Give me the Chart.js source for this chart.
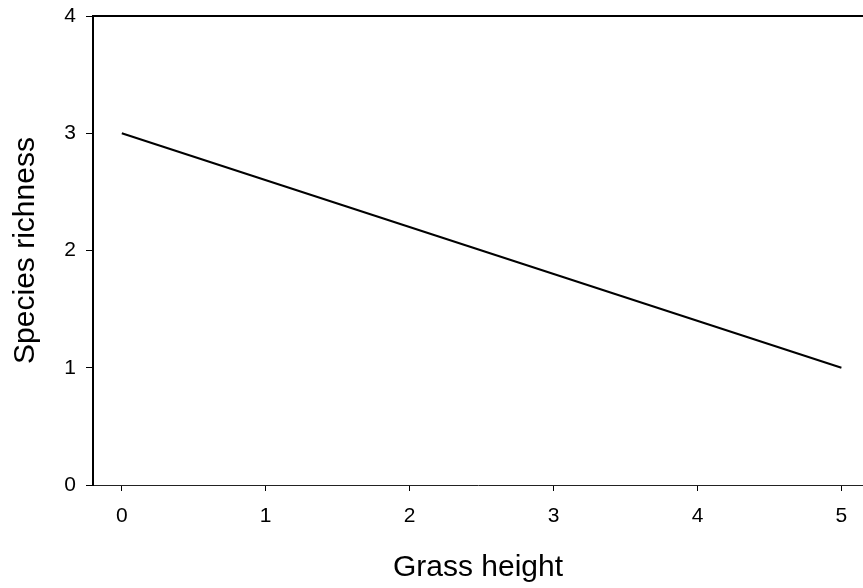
<!DOCTYPE html>
<html>
<head>
<meta charset="utf-8">
<script src="https://cdn.jsdelivr.net/npm/chart.js@4/dist/chart.umd.min.js"></script>
<style>
    html, body { margin: 0; padding: 0; background: #fff; }
    #wrap { width: 863px; height: 588px; }
</style>
</head>
<body>
<div id="wrap"><canvas id="chart"></canvas></div>
<script>
// values
let grass_height = [0, 5]
let species_richness = [3, 1]
let x_ticks = [0, 1, 2, 3, 4, 5]
let y_ticks = [0, 1, 2, 3, 4]

let points = []
for (let i = 0; i < grass_height.length; i++) {
    points.push({x: grass_height[i], y: species_richness[i]})
}

// top frame line, the reference has one above the plot
let top_line = {
    id: 'top_line',
    afterDraw(chart) {
        let ctx = chart.ctx
        let area = chart.chartArea
        ctx.save()
        ctx.strokeStyle = '#000'
        ctx.lineWidth = 2
        ctx.beginPath()
        ctx.moveTo(area.left - 1, area.top)
        ctx.lineTo(area.right, area.top)
        ctx.stroke()
        ctx.restore()
    }
}

let font = 'Liberation Sans, Arial, sans-serif'

new Chart(document.getElementById('chart').getContext('2d'), {
    type: 'scatter',
    data: {
        datasets: [{
            data: points,
            showLine: true,
            borderColor: '#000',
            borderWidth: 2,
            pointRadius: 0,
            fill: false
        }]
    },
    options: {
        responsive: true,
        maintainAspectRatio: false,
        animation: false,
        layout: { padding: { top: 16, right: 0, left: 0, bottom: 0 } },
        plugins: { legend: { display: false }, tooltip: { enabled: false } },
        scales: {
            x: {
                type: 'linear',
                min: -0.2,
                max: 5.15,
                afterBuildTicks: (scale) => {
                    scale.ticks = x_ticks.map(v => ({value: v}))
                },
                afterFit: (scale) => {
                    scale.height = 103
                    scale.paddingLeft = 0
                    scale.paddingRight = 0
                },
                border: { display: true, color: '#222', width: 1 },
                grid: { drawOnChartArea: false, tickLength: 6, color: '#000', lineWidth: 1 },
                ticks: { color: '#000', font: { family: font, size: 21 }, padding: 13, maxRotation: 0 },
                title: { display: true, text: 'Grass height', color: '#000',
                    font: { family: font, size: 30 }, padding: { top: 14, bottom: 2 } }
            },
            y: {
                type: 'linear',
                min: 0,
                max: 4,
                afterBuildTicks: (scale) => {
                    scale.ticks = y_ticks.map(v => ({value: v}))
                },
                afterFit: (scale) => {
                    scale.width = 93
                    scale.paddingTop = 0
                    scale.paddingBottom = 0
                },
                border: { display: true, color: '#000', width: 2 },
                grid: { drawOnChartArea: false, tickLength: 7, color: '#000', lineWidth: 1 },
                ticks: { color: '#000', font: { family: font, size: 21 }, padding: 10 },
                title: { display: true, text: 'Species richness', color: '#000',
                    font: { family: font, size: 30 }, padding: { top: 8, bottom: 0 } }
            }
        }
    },
    plugins: [top_line]
})
</script>
</body>
</html>
